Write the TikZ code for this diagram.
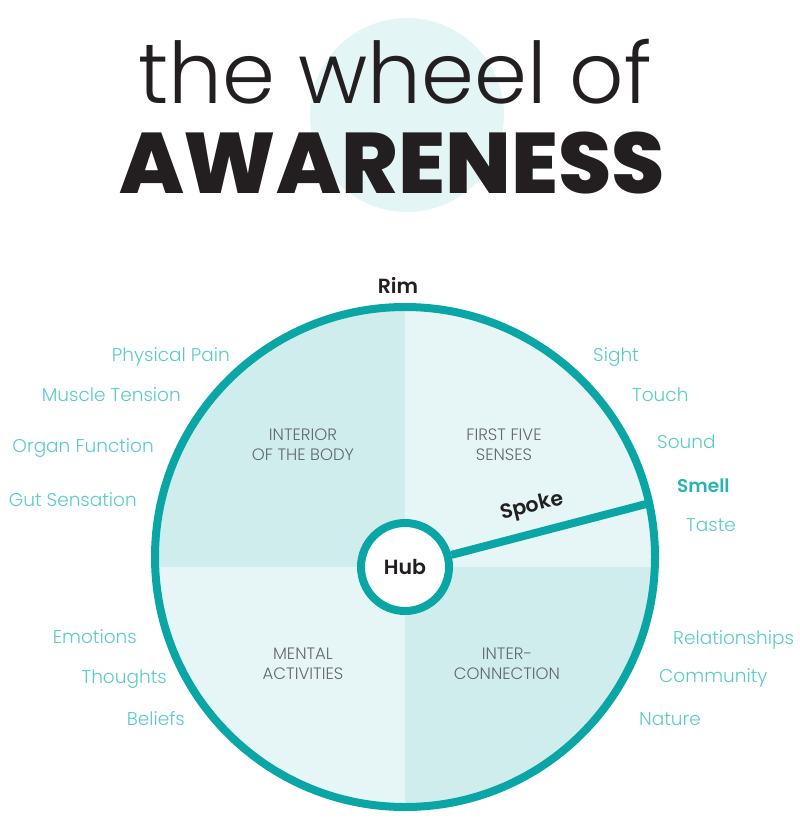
\documentclass[tikz,border=0pt]{standalone}
\usepackage{fontspec}
\setmainfont{Poppins}[UprightFont={* Light}, BoldFont={* SemiBold}]
\newfontfamily\thinfont{Poppins Light}
\newfontfamily\blackfont{Poppins ExtraBold}
\usetikzlibrary{positioning, calc}

\definecolor{rimteal}{HTML}{0AA5A5}
\definecolor{qdark}{HTML}{CFEDEC}
\definecolor{qlight}{HTML}{E6F6F6}
\definecolor{labteal}{HTML}{5CCACA}
\definecolor{smellteal}{HTML}{2AB3B3}
\definecolor{qtext}{HTML}{65686A}
\definecolor{titlecirc}{HTML}{E4F5F5}
\definecolor{inkblack}{HTML}{231F20}

\begin{document}
\begin{tikzpicture}[
    x=1pt, y=-1pt,
    every node/.style={inner sep=0pt},
    item/.style={text=labteal, font=\fontsize{18.5}{20}\selectfont},
    itemL/.style={item, anchor=base east},
    itemR/.style={item, anchor=base west},
    quad/.style={text=qtext, align=center, font=\fontsize{16.5}{20}\selectfont},
    part/.style={text=inkblack, font=\bfseries\fontsize{20.5}{22}\selectfont}
]
\useasboundingbox (0,0) rectangle (800,819);

% ============ TITLE ============
\fill[titlecirc] (407,115) circle[radius=97pt];
\node[anchor=base, text=inkblack, font=\thinfont\fontsize{85}{85}\selectfont] (title) at (395,103) {the wheel of};
\node[anchor=base, text=inkblack, font=\blackfont\fontsize{86}{86}\selectfont] (subtitle) at (392,193) {AWARENESS};

% ============ WHEEL ============
\coordinate (c) at (405,557);
\coordinate (q) at (405,567);
\begin{scope}
    \clip (c) circle[radius=251pt];
    \fill[qdark] (q) rectangle ++(-270,-270);
    \fill[qlight] (q) rectangle ++(270,-270);
    \fill[qlight] (q) rectangle ++(-270,270);
    \fill[qdark] (q) rectangle ++(270,270);
\end{scope}
\draw[rimteal, line width=8pt] (c) circle[radius=250pt];

% Spoke and hub
\coordinate (spokeend) at (650,503);
\node[circle, draw=rimteal, line width=8pt, fill=white, minimum size=88pt] (hub) at (q) {};
\draw[rimteal, line width=8pt] (hub) -- (spokeend);
\node[part] at (hub) {Hub};
\node[part, rotate=14] (spoke) at (532,507) {Spoke};
\node[part] (rim) at (398,285) {Rim};

% Quadrant names
\node[quad] (body) at (303,445) {INTERIOR\\OF THE BODY};
\node[quad] (senses) at (504,445) {FIRST FIVE\\SENSES};
\node[quad] (mental) at (303,664) {MENTAL\\ACTIVITIES};
\node[quad] (inter) at (507,664) {INTER-\\CONNECTION};

% ============ POINTS ON THE RIM ============
\node[itemL] (pain) at (230,361) {Physical Pain};
\node[itemL] (muscle) at (181,401) {Muscle Tension};
\node[itemL] (organ) at (154,452) {Organ Function};
\node[itemL] (gut) at (137,506) {Gut Sensation};

\node[itemR] (sight) at (593,361) {Sight};
\node[itemR] (touch) at (632,401) {Touch};
\node[itemR] (sound) at (657,448) {Sound};
\node[itemR, text=smellteal, font=\bfseries\fontsize{18.5}{20}\selectfont] (smell) at (677,492) {Smell};
\node[itemR] (taste) at (686,531) {Taste};

\node[itemL] (emotions) at (137,643) {Emotions};
\node[itemL] (thoughts) at (167,683) {Thoughts};
\node[itemL] (beliefs) at (185,725) {Beliefs};

\node[itemR] (relations) at (673,644) {Relationships};
\node[itemR] (community) at (659,682) {Community};
\node[itemR] (nature) at (639,725) {Nature};

\end{tikzpicture}
\end{document}
